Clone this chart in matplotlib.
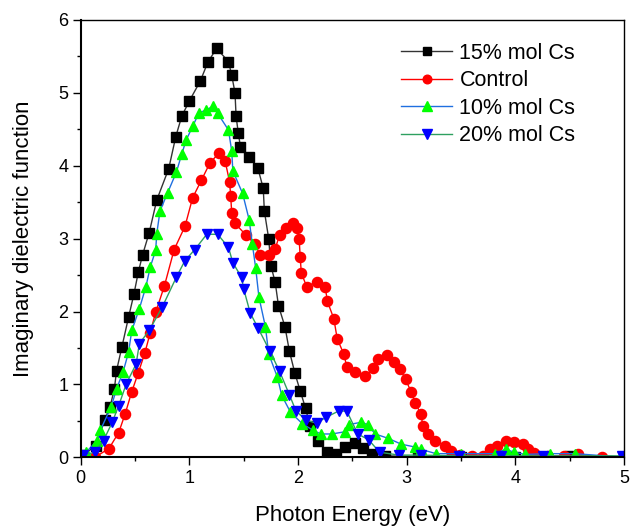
import matplotlib
matplotlib.use('Agg')
import matplotlib.pyplot as plt
from matplotlib.ticker import MultipleLocator

plt.rcParams['font.family'] = ['Liberation Sans', 'DejaVu Sans']

# 15% mol Cs
x_15 = [0.02, 0.14, 0.22, 0.27, 0.31, 0.33, 0.38, 0.44, 0.49, 0.53, 0.57, 0.63, 0.70,
        0.81, 0.875, 0.93, 1.00, 1.10, 1.17, 1.25, 1.36, 1.39, 1.42, 1.43, 1.45, 1.47,
        1.55, 1.63, 1.68, 1.69, 1.73, 1.75, 1.79, 1.82, 1.88, 1.92, 1.97, 2.02, 2.07,
        2.11, 2.18, 2.27, 2.35, 2.43, 2.52, 2.60, 2.68, 2.80, 3.10, 3.50, 4.00, 4.50, 5.00]
y_15 = [0.03, 0.16, 0.51, 0.69, 0.94, 1.19, 1.52, 1.92, 2.24, 2.54, 2.78, 3.08, 3.53,
        3.96, 4.40, 4.68, 4.89, 5.16, 5.42, 5.61, 5.43, 5.24, 5.00, 4.68, 4.45, 4.26,
        4.12, 3.97, 3.69, 3.38, 3.00, 2.63, 2.40, 2.08, 1.79, 1.46, 1.16, 0.91, 0.67,
        0.43, 0.22, 0.07, 0.04, 0.14, 0.19, 0.13, 0.05, 0.02, 0.01, 0.0, 0.0, 0.02, 0.0]

# Control
x_ctl = [0.13, 0.26, 0.35, 0.41, 0.47, 0.53, 0.59, 0.64, 0.69, 0.77, 0.86, 0.96, 1.03,
         1.11, 1.19, 1.27, 1.33, 1.37, 1.38, 1.39, 1.42, 1.52, 1.60, 1.65, 1.73, 1.79,
         1.83, 1.89, 1.95, 1.99, 2.01, 2.02, 2.03, 2.08, 2.17, 2.25, 2.27, 2.33, 2.36,
         2.42, 2.45, 2.52, 2.62, 2.69, 2.74, 2.82, 2.88, 2.94, 2.99, 3.04, 3.08, 3.13,
         3.15, 3.20, 3.26, 3.35, 3.41, 3.49, 3.60, 3.70, 3.77, 3.83, 3.91, 3.99, 4.07,
         4.12, 4.17, 4.30, 4.45, 4.58, 4.80, 5.00]
y_ctl = [0.0, 0.12, 0.34, 0.60, 0.90, 1.16, 1.43, 1.71, 1.99, 2.35, 2.85, 3.17, 3.56,
         3.80, 4.04, 4.17, 4.06, 3.78, 3.59, 3.35, 3.21, 3.05, 2.93, 2.78, 2.78, 2.86,
         3.05, 3.14, 3.21, 3.14, 3.00, 2.75, 2.53, 2.34, 2.41, 2.34, 2.14, 1.90, 1.63,
         1.42, 1.24, 1.17, 1.11, 1.22, 1.35, 1.41, 1.31, 1.21, 1.07, 0.90, 0.75, 0.59,
         0.43, 0.32, 0.23, 0.16, 0.09, 0.03, 0.02, 0.02, 0.11, 0.16, 0.22, 0.21, 0.18,
         0.12, 0.06, 0.02, 0.02, 0.04, 0.0, 0.0]

# 10% mol Cs
x_10 = [0.05, 0.15, 0.18, 0.28, 0.33, 0.39, 0.44, 0.47, 0.54, 0.60, 0.64, 0.69, 0.70,
        0.73, 0.80, 0.88, 0.93, 0.97, 1.03, 1.09, 1.15, 1.22, 1.26, 1.36, 1.39, 1.40,
        1.49, 1.55, 1.58, 1.61, 1.64, 1.70, 1.73, 1.81, 1.85, 1.93, 2.04, 2.14, 2.21,
        2.31, 2.43, 2.47, 2.58, 2.64, 2.71, 2.83, 2.95, 3.08, 3.13, 3.27, 3.50, 3.81,
        3.91, 3.99, 4.09, 4.32, 4.55, 5.00]
y_10 = [0.07, 0.23, 0.37, 0.69, 0.94, 1.17, 1.44, 1.74, 2.04, 2.34, 2.61, 2.84, 3.07,
        3.38, 3.63, 3.91, 4.16, 4.35, 4.54, 4.73, 4.76, 4.82, 4.72, 4.49, 4.20, 3.93,
        3.62, 3.26, 2.92, 2.60, 2.20, 1.79, 1.42, 1.10, 0.85, 0.62, 0.46, 0.37, 0.32,
        0.32, 0.35, 0.45, 0.48, 0.45, 0.32, 0.26, 0.18, 0.14, 0.11, 0.05, 0.05, 0.05,
        0.11, 0.07, 0.04, 0.05, 0.05, 0.0]

# 20% mol Cs
x_20 = [0.02, 0.13, 0.21, 0.29, 0.35, 0.42, 0.51, 0.54, 0.63, 0.75, 0.88, 0.96, 1.05,
        1.16, 1.26, 1.36, 1.40, 1.48, 1.50, 1.56, 1.63, 1.74, 1.83, 1.92, 1.98, 2.07,
        2.17, 2.26, 2.38, 2.45, 2.55, 2.65, 2.75, 2.93, 3.13, 3.48, 3.87, 4.25, 4.98]
y_20 = [0.03, 0.07, 0.23, 0.48, 0.71, 1.01, 1.28, 1.56, 1.74, 2.06, 2.47, 2.70, 2.85,
        3.06, 3.06, 2.88, 2.67, 2.47, 2.31, 1.98, 1.78, 1.46, 1.18, 0.86, 0.64, 0.51,
        0.47, 0.55, 0.64, 0.63, 0.32, 0.24, 0.07, 0.03, 0.03, 0.02, 0.02, 0.02, 0.02]

fig = plt.figure(figsize=(6.3, 5.26), dpi=100)
ax = fig.add_axes([0.1281, 0.1306, 0.8624, 0.8314])

ms = 7.3
ax.plot(x_15, y_15, '-s', color='#333333', mfc='black', mec='black', lw=1.0, ms=6.6, label='15% mol Cs')
ax.plot(x_ctl, y_ctl, '-o', color='red', mfc='red', mec='red', lw=1.0, ms=ms, label='Control')
ax.plot(x_10, y_10, '-^', color='#1f6fe0', mfc='#00ff00', mec='#00ff00', lw=1.0, ms=ms + 0.5, label='10% mol Cs')
ax.plot(x_20, y_20, '-v', color='#2ea060', mfc='#0000ff', mec='#0000ff', lw=1.0, ms=ms + 0.5, label='20% mol Cs')

ax.set_xlim(0, 5)
ax.set_ylim(0, 6)
ax.xaxis.set_major_locator(MultipleLocator(1))
ax.xaxis.set_minor_locator(MultipleLocator(0.5))
ax.yaxis.set_major_locator(MultipleLocator(1))
ax.yaxis.set_minor_locator(MultipleLocator(0.5))
ax.tick_params(which='major', direction='out', length=6, width=1.0, labelsize=13, pad=3)
ax.tick_params(which='minor', direction='out', length=3, width=1.0)
ax.tick_params(top=False, right=False)
for s in ['left', 'bottom']:
    ax.spines[s].set_linewidth(1.5)
for s in ['top', 'right']:
    ax.spines[s].set_linewidth(1.0)

ax.set_xlabel('Photon Energy (eV)', fontsize=16, labelpad=13)
ax.set_ylabel('Imaginary dielectric function', fontsize=16, labelpad=17)

leg = ax.legend(loc='upper left', bbox_to_anchor=(0.59, 0.948), frameon=False, fontsize=15.5,
                handlelength=2.35, handletextpad=0.35, labelspacing=0.3, borderaxespad=0,
                borderpad=0, markerscale=0.85)

fig.savefig('out.png', dpi=100)
